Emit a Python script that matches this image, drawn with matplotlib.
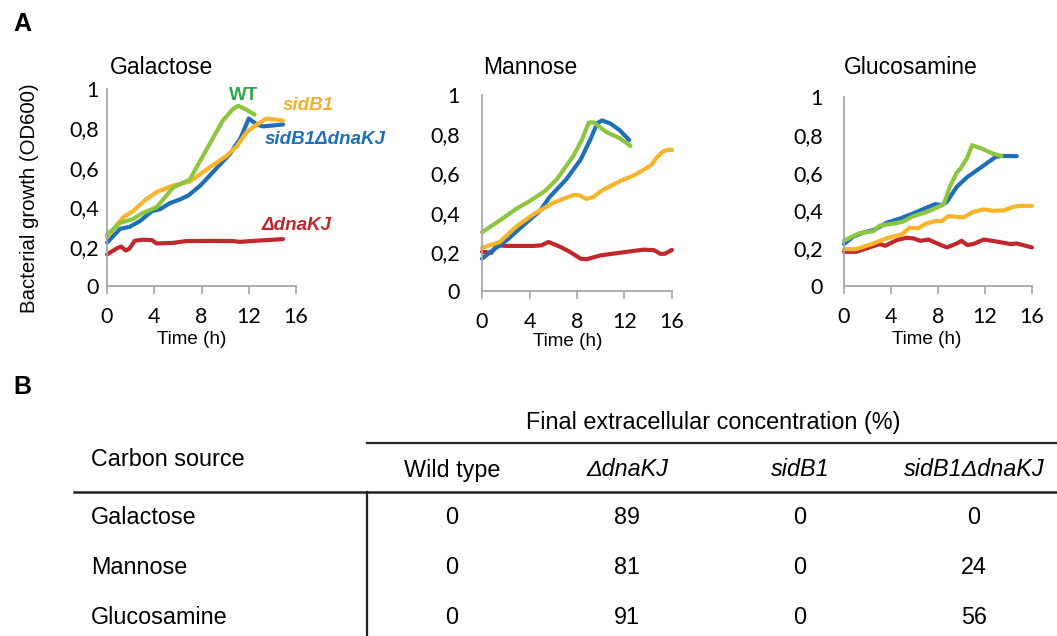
import matplotlib
matplotlib.use("Agg")
import matplotlib.pyplot as plt

W, H = 1057, 636

# ---- Panel A data: time (h) and OD600 ----
gal_wt_t = [0, 1.1, 2.2, 3.0, 4.2, 5.6, 7.0, 8.4, 9.8, 10.7, 11.1, 11.8, 12.5]
gal_wt_od = [0.26, 0.32, 0.34, 0.37, 0.40, 0.50, 0.54, 0.69, 0.84, 0.90, 0.915, 0.895, 0.87]
gal_sid_t = [0, 1.4, 2.2, 3.3, 4.3, 5.6, 7.0, 8.4, 10.1, 11.0, 11.8, 12.7, 13.5, 14.9]
gal_sid_od = [0.25, 0.35, 0.38, 0.44, 0.48, 0.51, 0.53, 0.59, 0.66, 0.71, 0.78, 0.82, 0.85, 0.84]
gal_dbl_t = [0, 1.1, 1.9, 2.8, 3.8, 4.5, 5.3, 6.2, 6.9, 7.9, 9.0, 10.4, 11.3, 12.0, 12.7, 13.2, 14.9]
gal_dbl_od = [0.22, 0.29, 0.30, 0.33, 0.38, 0.39, 0.42, 0.44, 0.46, 0.51, 0.58, 0.67, 0.75, 0.85, 0.82, 0.81, 0.82]
gal_dko_t = [0, 0.8, 1.2, 1.6, 1.9, 2.35, 3.05, 3.8, 4.2, 5.6, 6.7, 9.0, 10.7, 11.25, 12.4, 14.9]
gal_dko_od = [0.16, 0.19, 0.20, 0.18, 0.19, 0.23, 0.235, 0.233, 0.216, 0.219, 0.228, 0.229, 0.228, 0.224, 0.229, 0.238]

man_wt_t = [0, 1.5, 2.9, 4.05, 5.3, 6.3, 7.7, 8.4, 9.0, 9.4, 10.5, 11.6, 12.5]
man_wt_od = [0.30, 0.36, 0.42, 0.46, 0.51, 0.57, 0.69, 0.77, 0.86, 0.86, 0.81, 0.78, 0.74]
man_sid_t = [0, 1.5, 2.9, 4.3, 6.0, 7.7, 8.1, 8.8, 9.4, 10.0, 11.6, 12.8, 14.2, 14.7, 15.2, 15.6, 16.0]
man_sid_od = [0.22, 0.25, 0.33, 0.39, 0.45, 0.49, 0.49, 0.47, 0.48, 0.51, 0.56, 0.59, 0.64, 0.68, 0.71, 0.72, 0.72]
man_dbl_t = [0, 0.96, 2.1, 3.2, 4.9, 5.7, 7.1, 8.3, 9.1, 9.7, 10.1, 10.8, 11.6, 12.4]
man_dbl_od = [0.165, 0.21, 0.26, 0.32, 0.41, 0.48, 0.57, 0.67, 0.77, 0.855, 0.87, 0.855, 0.82, 0.77]
man_dko_t = [0, 0.8, 1.24, 2.1, 4.3, 5.0, 5.6, 6.6, 7.4, 8.3, 8.8, 10.0, 12.2, 13.6, 14.5, 15.0, 15.4, 16.0]
man_dko_od = [0.20, 0.195, 0.233, 0.23, 0.23, 0.233, 0.25, 0.225, 0.20, 0.165, 0.162, 0.182, 0.20, 0.211, 0.208, 0.19, 0.19, 0.21]

glu_wt_t = [0, 1.34, 2.5, 3.05, 4.2, 5.0, 5.9, 7.0, 7.9, 8.5, 9.0, 9.6, 9.9, 10.5, 10.9, 11.6, 12.7, 13.4]
glu_wt_od = [0.24, 0.28, 0.29, 0.32, 0.33, 0.34, 0.37, 0.39, 0.415, 0.433, 0.525, 0.60, 0.62, 0.68, 0.745, 0.73, 0.70, 0.688]
glu_sid_t = [0, 1.05, 2.5, 3.6, 4.9, 5.6, 6.3, 7.0, 7.75, 8.3, 8.9, 9.6, 10.2, 11.0, 11.9, 12.7, 13.6, 14.4, 15.0, 16.0]
glu_sid_od = [0.195, 0.195, 0.225, 0.252, 0.273, 0.308, 0.305, 0.331, 0.343, 0.343, 0.37, 0.366, 0.363, 0.393, 0.405, 0.398, 0.40, 0.419, 0.424, 0.424]
glu_dbl_t = [0, 0.77, 1.6, 2.5, 3.05, 3.6, 4.76, 5.9, 7.0, 7.75, 8.3, 8.75, 9.6, 10.5, 11.6, 12.9, 13.4, 14.7]
glu_dbl_od = [0.222, 0.26, 0.282, 0.296, 0.313, 0.334, 0.357, 0.384, 0.414, 0.433, 0.428, 0.445, 0.525, 0.577, 0.625, 0.683, 0.688, 0.687]
glu_dko_t = [0, 1.05, 1.9, 3.05, 3.5, 4.5, 5.3, 5.9, 6.5, 7.2, 7.6, 8.75, 9.6, 10.0, 10.5, 11.0, 11.9, 12.7, 14.2, 14.7, 16.0]
glu_dko_od = [0.181, 0.181, 0.199, 0.222, 0.213, 0.243, 0.255, 0.252, 0.239, 0.246, 0.234, 0.204, 0.225, 0.239, 0.217, 0.222, 0.246, 0.238, 0.222, 0.225, 0.204]

panels = ["Galactose", "Mannose", "Glucosamine"]
strains = ["WT", "sidB1", "sidB1\u0394dnaKJ", "\u0394dnaKJ"]
colors = ["#8CC63F", "#F8B42A", "#1F6FB8", "#C1272D"]
label_colors = ["#2BA84A", "#F2B12E", "#1F6FB8", "#C1272D"]

yticks = [0, 0.2, 0.4, 0.6, 0.8, 1]
ytick_labels = ["0", "0,2", "0,4", "0,6", "0,8", "1"]
xticks = [0, 4, 8, 12, 16]

# ---- Panel B data ----
carbon_sources = ["Galactose", "Mannose", "Glucosamine"]
table_cols = ["Wild type", "\u0394dnaKJ", "sidB1", "sidB1\u0394dnaKJ"]
conc_wt = [0, 0, 0]
conc_dko = [89, 81, 91]
conc_sid = [0, 0, 0]
conc_dbl = [0, 24, 56]

curves = [
    [(gal_wt_t, gal_wt_od), (gal_sid_t, gal_sid_od), (gal_dbl_t, gal_dbl_od), (gal_dko_t, gal_dko_od)],
    [(man_wt_t, man_wt_od), (man_sid_t, man_sid_od), (man_dbl_t, man_dbl_od), (man_dko_t, man_dko_od)],
    [(glu_wt_t, glu_wt_od), (glu_sid_t, glu_sid_od), (glu_dbl_t, glu_dbl_od), (glu_dko_t, glu_dko_od)],
]

plt.rcParams['font.family'] = ['Liberation Sans', 'DejaVu Sans']
fig = plt.figure(figsize=(W / 100, H / 100), dpi=100)


def px_axes(left, top, right, bottom):
    return fig.add_axes([left / W, 1 - bottom / H, (right - left) / W, (bottom - top) / H])


# pixel boxes of the three plots and the y-label pad of each
boxes = [(107, 89, 296, 286), (482, 95, 672, 291), (844, 97, 1032, 286)]
ypads = [6, 16, 15]
gray = "#A6A6A6"

for k in range(3):
    ax = px_axes(*boxes[k])
    for (t, od), c in zip(curves[k][::-1], colors[::-1]):
        ax.plot(t, od, color=c, lw=3.0, solid_capstyle='round', solid_joinstyle='round', clip_on=False)
    ax.set_xlim(0, 16)
    ax.set_ylim(0, 1)
    ax.set_xticks(xticks)
    ax.set_yticks(yticks)
    ax.set_yticklabels(ytick_labels)
    for s in ["top", "right"]:
        ax.spines[s].set_visible(False)
    for s in ["left", "bottom"]:
        ax.spines[s].set_color(gray)
        ax.spines[s].set_linewidth(1.3)
    ax.tick_params(axis='x', length=6, width=1.2, color=gray, pad=9, labelsize=15.5)
    ax.tick_params(axis='y', length=0, pad=ypads[k], labelsize=15.5)
    for lab in ax.get_xticklabels() + ax.get_yticklabels():
        lab.set_fontfamily('Lato')
    ax.patch.set_alpha(0)

ov = fig.add_axes([0, 0, 1, 1])
ov.set_xlim(0, W)
ov.set_ylim(H, 0)
ov.axis('off')
ov.patch.set_alpha(0)

ov.text(22, 24, "A", fontsize=18, fontweight='bold', ha='center', va='center')
ov.text(22, 387, "B", fontsize=18, fontweight='bold', ha='center', va='center')

title_x = [110, 483, 844]
title_y = [67, 67, 68]
time_x = [192, 568, 927]
time_y = [340, 342, 340]
for k in range(3):
    ov.text(title_x[k], title_y[k], panels[k], fontsize=16.5, ha='left', va='center')
    ov.text(time_x[k], time_y[k], "Time (h)", fontsize=13.6, ha='center', va='center')
ov.text(30, 198, "Bacterial growth (OD600)", fontsize=14.7, rotation=90, ha='center', va='center')

# strain labels on the galactose plot
ov.text(244, 95, strains[0], color=label_colors[0], fontsize=13.5, fontweight='bold', ha='center', va='center')
ov.text(308, 105, strains[1], color=label_colors[1], fontsize=13.5, fontweight='bold', style='italic', ha='center', va='center')
ov.text(265, 140, strains[2], color=label_colors[2], fontsize=13.5, fontweight='bold', style='italic', ha='left', va='center')
ov.text(262, 225, strains[3], color=label_colors[3], fontsize=13.5, fontweight='bold', style='italic', ha='left', va='center')

# ---- table ----
tfs = 16.8
col_x = [452, 627, 800, 974]
row_y = [517, 567, 617]
ov.text(713, 423, "Final extracellular concentration (%)", fontsize=tfs, ha='center', va='center')
ov.text(91, 460, "Carbon source", fontsize=tfs, ha='left', va='center')
for j, name in enumerate(table_cols):
    ov.text(col_x[j], 470, name, fontsize=tfs, ha='center', va='center',
            style='normal' if j == 0 else 'italic')
values = [conc_wt, conc_dko, conc_sid, conc_dbl]
for i, src in enumerate(carbon_sources):
    ov.text(91, row_y[i], src, fontsize=tfs, ha='left', va='center')
    for j in range(4):
        ov.text(col_x[j], row_y[i], str(values[j][i]), fontsize=tfs, ha='center', va='center')

ov.plot([367, W], [443, 443], color='#222222', lw=1.6)
ov.plot([74, W], [492, 492], color='#222222', lw=1.8)
ov.plot([367, 367], [492, H], color='#222222', lw=1.6)

fig.savefig("out.png", dpi=100)
